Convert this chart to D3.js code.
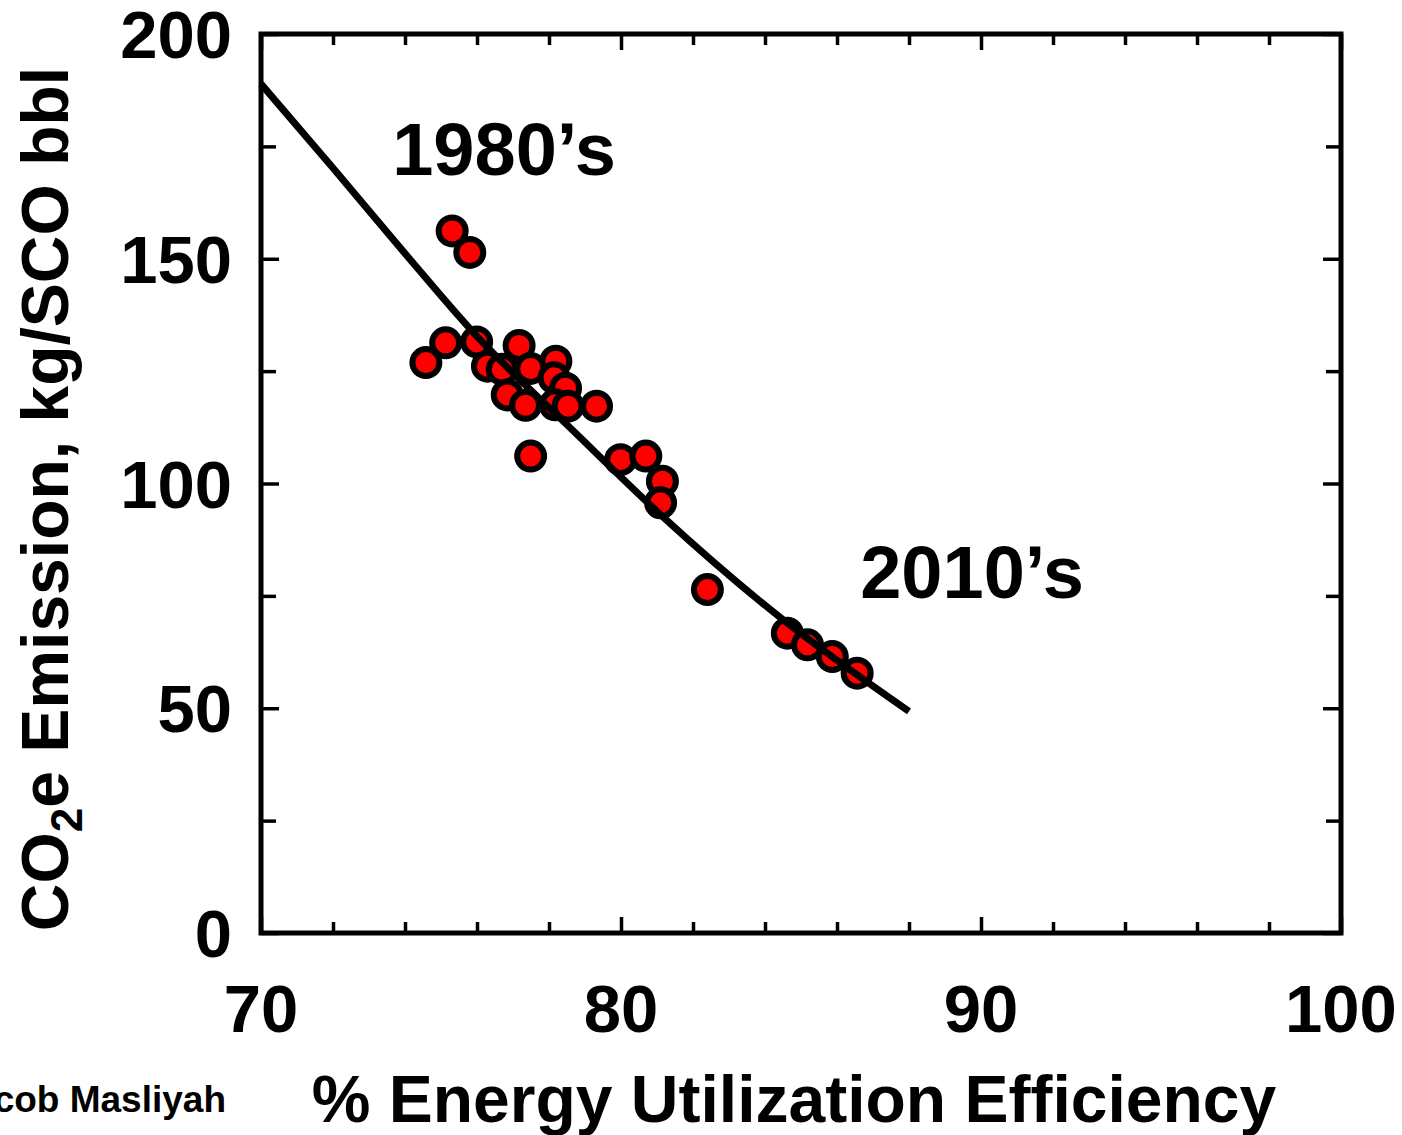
<!DOCTYPE html>
<html>
<head>
<meta charset="utf-8">
<script src="https://cdn.jsdelivr.net/npm/d3@7"></script>
<style>
  html, body { margin: 0; padding: 0; background: #fff; }
  svg { display: block; font-family: "Liberation Sans", Arial, sans-serif; font-weight: bold; }
</style>
</head>
<body>
<div id="chart"></div>
<script>
// Measured points (efficiency %, kg CO2e / bbl SCO)
const efficiency = [75.31, 75.8, 74.58, 75.13, 75.99, 76.29, 76.7, 77.17, 77.49, 78.19, 78.14, 78.46,
    76.84, 77.35, 78.17, 78.53, 79.32, 77.49, 79.99, 80.69, 81.15, 81.1, 82.4, 84.62, 85.18, 85.87, 86.56];
const emission = [156.2, 151.4, 126.9, 131.3, 131.5, 126.1, 125.4, 130.7, 125.6, 127.2, 123.5, 121.2,
    119.7, 117.4, 117.5, 117.2, 117.2, 106.1, 105.3, 106.1, 100.5, 95.7, 76.4, 66.7, 64.1, 61.5, 57.8];

// Trend curve
const fitX = [70.0, 72.0, 74.06, 75.82, 78.83, 81.15, 84.39, 88.0];
const fitY = [188.9, 170.2, 150.6, 134.3, 110.5, 92.7, 70.4, 49.3];

const xTicks = [70, 80, 90, 100];
const yTicks = [0, 50, 100, 150, 200];

const width = 1402, height = 1135;
const margin = { top: 34, right: 61, bottom: 202, left: 261 };
const innerW = width - margin.left - margin.right;
const innerH = height - margin.top - margin.bottom;

const svg = d3.select("#chart").append("svg")
    .attr("width", width)
    .attr("height", height);

const g = svg.append("g")
    .attr("transform", `translate(${margin.left},${margin.top})`);

const x = d3.scaleLinear().domain([70, 100]).range([0, innerW]);
const y = d3.scaleLinear().domain([0, 200]).range([innerH, 0]);

// Inward ticks on all four sides
const minorX = d3.range(70, 100.01, 2).filter(v => v % 10 !== 0);
const minorY = d3.range(0, 200.01, 25).filter(v => v % 50 !== 0);

function tickAxis(axis, vals, size) {
    return axis.tickValues(vals).tickSize(size).tickFormat("").tickSizeOuter(0);
}
const tickLayers = [
    [d3.axisBottom(x), xTicks, -16, `translate(0,${innerH})`],
    [d3.axisBottom(x), minorX, -11, `translate(0,${innerH})`],
    [d3.axisTop(x), xTicks, -16, null],
    [d3.axisTop(x), minorX, -11, null],
    [d3.axisLeft(y), yTicks, -18, null],
    [d3.axisLeft(y), minorY, -15, null],
    [d3.axisRight(y), yTicks, -18, `translate(${innerW},0)`],
    [d3.axisRight(y), minorY, -15, `translate(${innerW},0)`]
];
tickLayers.forEach(([ax, vals, size, tr]) => {
    const a = g.append("g").call(tickAxis(ax, vals, size));
    if (tr) a.attr("transform", tr);
    a.select(".domain").remove();
    a.selectAll("line").attr("stroke", "#000").attr("stroke-width", 3.5);
});

// Frame
g.append("rect")
    .attr("x", 0).attr("y", 0)
    .attr("width", innerW).attr("height", innerH)
    .attr("fill", "none")
    .attr("stroke", "#000")
    .attr("stroke-width", 5);

// Tick labels
g.selectAll(".xlab").data(xTicks).enter().append("text")
    .attr("x", d => x(d))
    .attr("y", innerH + 99)
    .attr("text-anchor", "middle")
    .style("font-size", "67px")
    .text(d => d);

g.selectAll(".ylab").data(yTicks).enter().append("text")
    .attr("x", -29)
    .attr("y", d => y(d) + 24)
    .attr("text-anchor", "end")
    .style("font-size", "67px")
    .text(d => d);

// Points
g.selectAll(".pt").data(efficiency).enter().append("circle")
    .attr("cx", d => x(d))
    .attr("cy", (d, i) => y(emission[i]))
    .attr("r", 13.5)
    .attr("fill", "#f00")
    .attr("stroke", "#000")
    .attr("stroke-width", 6);

// Trend curve (drawn over the points, as in the original)
const line = d3.line()
    .x(d => x(d[0]))
    .y(d => y(d[1]))
    .curve(d3.curveMonotoneX);
g.append("path")
    .datum(fitX.map((v, i) => [v, fitY[i]]))
    .attr("d", line)
    .attr("fill", "none")
    .attr("stroke", "#000")
    .attr("stroke-width", 7);

// Annotations
g.append("text")
    .attr("x", 504 - margin.left).attr("y", 175 - margin.top)
    .attr("text-anchor", "middle")
    .style("font-size", "74px")
    .text("1980\u2019s");

g.append("text")
    .attr("x", 972 - margin.left).attr("y", 598 - margin.top)
    .attr("text-anchor", "middle")
    .style("font-size", "74px")
    .text("2010\u2019s");

// Axis titles
svg.append("text")
    .attr("x", 794).attr("y", 1122)
    .attr("text-anchor", "middle")
    .style("font-size", "66px")
    .text("% Energy Utilization Efficiency");

const yt = svg.append("text")
    .attr("transform", "translate(68,499) rotate(-90)")
    .attr("text-anchor", "middle")
    .style("font-size", "66px");
yt.append("tspan").text("CO");
yt.append("tspan").attr("dy", 14).style("font-size", "44px").text("2");
yt.append("tspan").attr("dy", -14).text("e Emission, kg/SCO bbl");

// Credit, cut at the left edge as in the original
svg.append("text")
    .attr("x", 226).attr("y", 1112)
    .attr("text-anchor", "end")
    .style("font-size", "37px")
    .text("Jacob Masliyah");
</script>
</body>
</html>
